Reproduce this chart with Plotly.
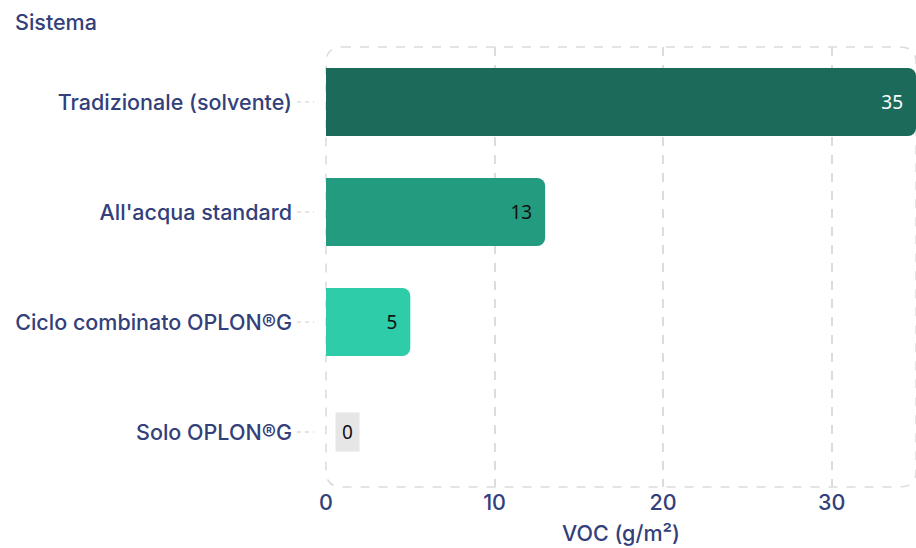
import plotly.graph_objects as go

categories = ["Tradizionale (solvente)", "All'acqua standard", "Ciclo combinato OPLON®G", "Solo OPLON®G"]
values = [35, 13, 5, 0]
bar_colors = ["#1b6a5a", "#239b7f", "#2ecca8", "#e6e6e6"]
label_colors = ["#ffffff", "#111111", "#111111", "#111111"]
x_ticks = [0, 10, 20, 30]

navy = "#33407a"
grid = "#dcdcdc"
FS = 21.5

fig = go.Figure()
fig.add_trace(go.Bar(
    y=categories, x=values, orientation="h",
    marker=dict(color=bar_colors, cornerradius=8, line=dict(width=0)),
    text=[f"{v}\u00a0" if v > 0 else "" for v in values],
    textposition="inside", insidetextanchor="end",
    textfont=dict(family="Noto Sans", size=19, color=label_colors, weight=400),
    hoverinfo="skip",
))

# label for zero value
for c, v in zip(categories, values):
    if v == 0:
        fig.add_annotation(x=v, y=c, text=str(v), showarrow=False, xanchor="left",
                           xshift=9, bgcolor="#e6e6e6", borderpad=6,
                           font=dict(family="Noto Sans", size=19, color="#111111", weight=400))

W, H = 916, 548
ml, mr, mt, mb = 326, 0, 47, 61
pw, ph = W - ml - mr, H - mt - mb
r = 16
rx, ry = r / pw, r / ph
path = (f"M {rx},1 L {1-rx},1 Q 1,1 1,{1-ry} L 1,{ry} Q 1,0 {1-rx},0 "
        f"L {rx},0 Q 0,0 0,{ry} L 0,{1-ry} Q 0,1 {rx},1 Z")
fig.add_shape(type="path", path=path, xref="paper", yref="paper",
              line=dict(color=grid, width=1.5, dash="dash"), layer="below")

# dashed category tick marks
for c in categories:
    fig.add_shape(type="line", xref="paper", yref="y", x0=-29 / pw, x1=-12 / pw, y0=c, y1=c,
                  line=dict(color=grid, width=1.5, dash="4px,4px"))

fig.update_layout(
    width=W, height=H,
    margin=dict(l=ml, r=mr, t=mt, b=mb),
    plot_bgcolor="white", paper_bgcolor="white",
    bargap=0.38, showlegend=False,
    font=dict(family="Inter", size=FS, color=navy, weight=500),
    xaxis=dict(range=[0, 35], tickvals=x_ticks, showgrid=True, gridcolor=grid,
               griddash="dash", gridwidth=1.5, zeroline=False, showline=False,
               tickfont=dict(size=FS, color=navy, weight=500), ticks="", ticklabelstandoff=0,
               title=dict(text="VOC (g/m²)", font=dict(size=FS, color=navy, weight=500), standoff=12)),
    yaxis=dict(categoryorder="array", categoryarray=categories[::-1],
               autorange=False, range=[-0.5, 3.5], showgrid=False, zeroline=False,
               ticks="", ticklabelstandoff=33,
               tickfont=dict(size=FS, color=navy, weight=500)),
)
fig.add_annotation(text="Sistema", xref="paper", yref="paper", x=-ml / pw, y=1, yshift=mt - 7,
                   xanchor="left", yanchor="top", xshift=13, showarrow=False,
                   font=dict(size=FS, color=navy, weight=500))

fig.write_html("out.html", config={"displayModeBar": False},
               post_script="document.body.style.margin='0';document.body.style.overflow='hidden';")
